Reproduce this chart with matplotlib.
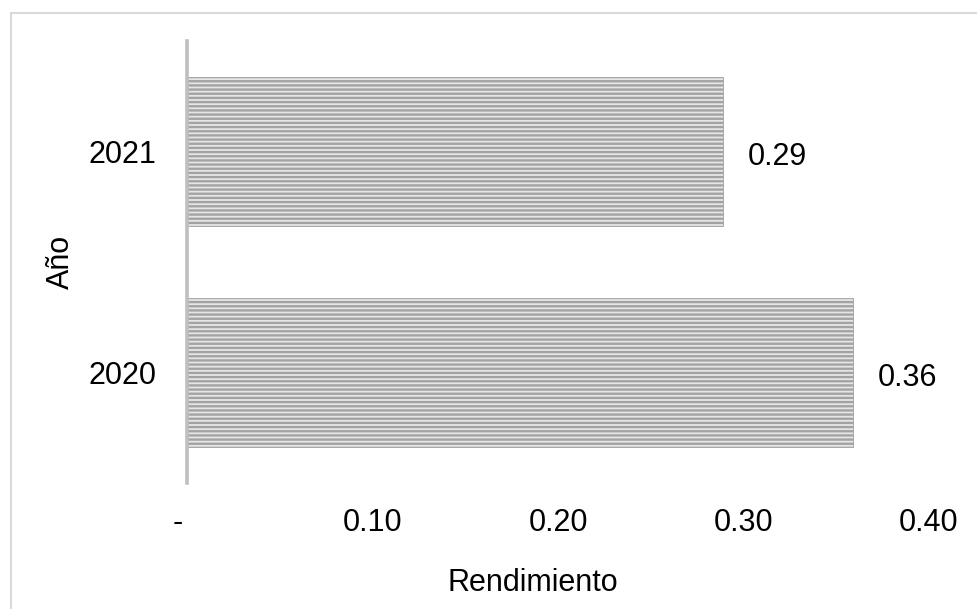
import matplotlib.pyplot as plt
from matplotlib.patches import Rectangle
from matplotlib.transforms import ScaledTranslation

plt.rcParams['font.family'] = ['Liberation Sans', 'DejaVu Sans']
plt.rcParams['hatch.linewidth'] = 1.7

# data
years = ['2020', '2021']
rendimiento = [0.359, 0.289]
x_ticks = [0.0, 0.1, 0.2, 0.3, 0.4]
x_tick_labels = ['-', '0.10', '0.20', '0.30', '0.40']

fig = plt.figure(figsize=(9.77, 6.09), dpi=100)
ax = fig.add_axes([187 / 977, 1 - 483 / 609, 742 / 977, 442 / 609])

bars = ax.barh(years, rendimiento, height=0.673, color='#e6e6e6',
               edgecolor='#a3a3a3', linewidth=0.6, hatch='----')

# value labels to the right of each bar
for b, v in zip(bars, rendimiento):
    ax.annotate(f'{v:.2f}', (b.get_width(), b.get_y() + b.get_height() / 2),
                xytext=(18, -1.5), textcoords='offset points',
                va='center_baseline', ha='left', fontsize=22)

ax.set_xlim(0, 0.4)
ax.set_ylim(-0.5, 1.5)
ax.set_xticks(x_ticks)
ax.set_xticklabels(x_tick_labels, fontsize=22)
ax.tick_params(axis='x', length=0, pad=18)
ax.tick_params(axis='y', length=0, pad=22, labelsize=22)

# excel puts the zero dash a little left of the axis
lbl0 = ax.get_xticklabels()[0]
lbl0.set_transform(lbl0.get_transform() + ScaledTranslation(-9 / 100, 0, fig.dpi_scale_trans))

for s in ['top', 'right', 'bottom']:
    ax.spines[s].set_visible(False)
ax.spines['left'].set_color('#bfbfbf')
ax.spines['left'].set_linewidth(2.6)

fig.text(533 / 977, 1 - 583 / 609, 'Rendimiento', ha='center', va='center', fontsize=22)
fig.text(61 / 977, 1 - 262 / 609, 'Año', ha='center', va='center', rotation=90, fontsize=22)

# chart frame, only the top and left edges are inside the picture
fig.patches.append(Rectangle((10.5 / 977, -0.1), 1.2, 1 - 12.5 / 609 + 0.1,
                             transform=fig.transFigure, fill=False,
                             edgecolor='#d9d9d9', linewidth=1.5))

fig.savefig('out.png', dpi=100)
